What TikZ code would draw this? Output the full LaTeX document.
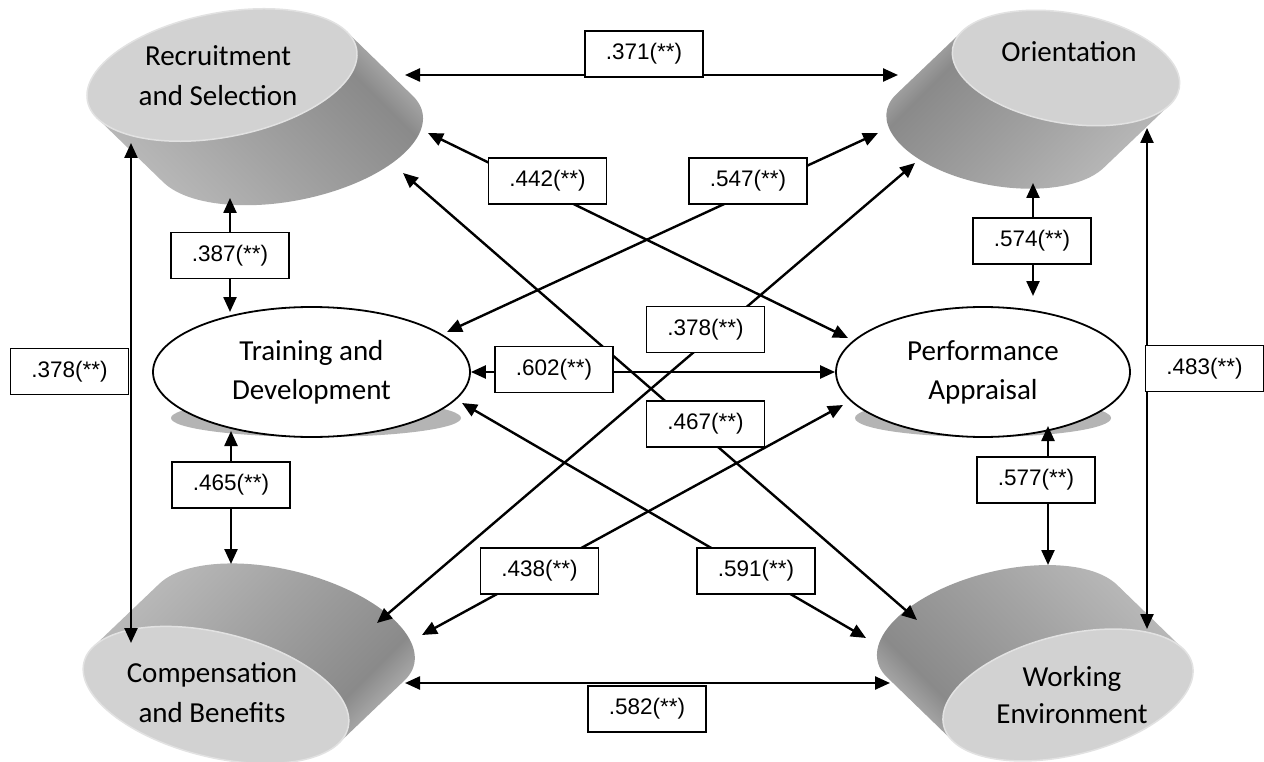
\documentclass[tikz,border=0pt]{standalone}
\usepackage{fontspec}
\setmainfont{Carlito}
\newfontfamily\labfont{Liberation Sans}
\usetikzlibrary{arrows.meta,shapes.geometric}
\definecolor{facecol}{HTML}{D2D2D2}
\definecolor{rimcol}{HTML}{E2E2E2}
\definecolor{shadowcol}{HTML}{B4B4B4}
\definecolor{cA}{HTML}{BDBDBD}
\definecolor{cB}{HTML}{A3A3A3}
\definecolor{cC}{HTML}{8A8A8A}
\definecolor{cD}{HTML}{BDBDBD}
\pgfdeclarehorizontalshading{cylshade}{100bp}{color(0bp)=(cA); color(25bp)=(cA); color(45bp)=(cB); color(66bp)=(cC); color(75bp)=(cD); color(100bp)=(cD)}
\newcommand\mycyl[8]{%
\begin{scope}[shift={(#1,#2)},rotate=#3]
\pgfmathsetmacro\myud{cos(#3)*(#6)-sin(#3)*(#7)}
\pgfmathsetmacro\myvd{sin(#3)*(#6)+cos(#3)*(#7)}
\pgfmathsetmacro\mynu{-(\myud)}
\pgfmathsetmacro\mynv{-(\myvd)}
\pgfmathsetmacro\myt{atan2(-(#5)*(\myud),(#4)*(\myvd))}
\pgfmathsetmacro\mytb{\myt+180}
\pgfmathsetmacro\mytc{\myt+360}
\path[shading=cylshade,shading angle=#8] ({(#4)*cos(\myt)},{(#5)*sin(\myt)}) -- ++(\myud,\myvd) arc[start angle=\myt,end angle=\mytb,x radius=#4,y radius=#5] -- ++(\mynu,\mynv) arc[start angle=\mytb,end angle=\mytc,x radius=#4,y radius=#5] -- cycle;
\path[fill=facecol,draw=rimcol,line width=1.5pt] (0,0) ellipse[x radius=#4,y radius=#5];
\end{scope}}
\begin{document}
\begin{tikzpicture}[x=1pt,y=-1pt,
  conn/.style={line width=2.4pt,{Triangle[length=15pt,width=13pt]}-{Triangle[length=15pt,width=13pt]}},
  lab/.style={draw,line width=1.6pt,fill=white,minimum width=118pt,minimum height=46pt,inner sep=0pt,font=\labfont\fontsize{22.5}{26}\selectfont},
  oval/.style={ellipse,draw,line width=1.8pt,fill=white,inner sep=0pt,align=center,font=\fontsize{29}{39}\selectfont},
  cyltext/.style={align=center,inner sep=0pt,font=\fontsize{29}{40}\selectfont}]
\useasboundingbox (0,0) rectangle (1264,762);
\fill[white] (0,0) rectangle (1264,762);
% cylinders
\mycyl{222}{75}{11}{137}{62}{66}{64}{45}
\mycyl{1066}{68}{-10}{115}{55}{-66}{63}{135}
\mycyl{216}{695}{-14}{136}{62}{66}{-63}{-45}
\mycyl{1068}{695}{14}{128}{60}{-66}{-64}{-135}
\node[cyltext] (rs) at (218,76) {Recruitment\\and Selection};
\node[cyltext] (or) at (1069,52) {Orientation};
\node[cyltext] (cb) at (212,693) {Compensation\\and Benefits};
\node[cyltext,font=\fontsize{29}{37}\selectfont] (we) at (1072,695) {Working\\Environment};
% shadows and ellipses
\fill[shadowcol] (316,418) ellipse[x radius=145,y radius=19];
\fill[shadowcol] (983,418) ellipse[x radius=128,y radius=19];
\node[oval,minimum width=317pt,minimum height=130pt] (td) at (311.5,372) {Training and\\Development};
\node[oval,minimum width=294pt,minimum height=130pt] (pa) at (983,372) {Performance\\Appraisal};
% connector ends
\coordinate (rsE) at (405,75);   \coordinate (orW) at (898,75);
\coordinate (rsA) at (428,133);  \coordinate (paA) at (848,338);
\coordinate (orA) at (878,133);  \coordinate (tdA) at (447,332);
\coordinate (orB) at (915,163);  \coordinate (cbA) at (377,623);
\coordinate (rsB) at (403,173);  \coordinate (weA) at (917,620);
\coordinate (paB) at (843,405);  \coordinate (cbB) at (422,635);
\coordinate (tdB) at (462,403);  \coordinate (weB) at (866,638);
\coordinate (rsC) at (131,143);  \coordinate (cbC) at (131,643);
\coordinate (orC) at (1147,128); \coordinate (weC) at (1147,629);
\coordinate (rsD) at (230,198);  \coordinate (tdC) at (230,312);
\coordinate (tdD) at (231,431);  \coordinate (cbD) at (231,564);
\coordinate (orD) at (1033,183); \coordinate (paC) at (1033,296);
\coordinate (paD) at (1048,426); \coordinate (weD) at (1048,565);
\coordinate (cbE) at (405,683);  \coordinate (weE) at (890,683);
% connectors
\draw[conn] (rsE) -- (orW);
\draw[conn] (rsA) -- (paA);
\draw[conn] (orA) -- (tdA);
\draw[conn] (orB) -- (cbA);
\draw[conn] (rsB) -- (weA);
\draw[conn] (td.east) -- (pa.west);
\draw[conn] (paB) -- (cbB);
\draw[conn] (tdB) -- (weB);
\draw[conn] (rsC) -- (cbC);
\draw[conn] (orC) -- (weC);
\draw[conn] (rsD) -- (tdC);
\draw[conn] (tdD) -- (cbD);
\draw[conn] (orD) -- (paC);
\draw[conn] (paD) -- (weD);
\draw[conn] (cbE) -- (weE);
% labels
\node[lab] (l371) at (644,54) {.371(**)};
\node[lab] (l442) at (547.5,181) {.442(**)};
\node[lab] (l547) at (748,181) {.547(**)};
\node[lab] (l378m) at (705.5,329.5) {.378(**)};
\node[lab] (l602) at (554,369.5) {.602(**)};
\node[lab] (l467) at (705.5,424) {.467(**)};
\node[lab] (l438) at (539.5,571) {.438(**)};
\node[lab] (l591) at (756,571) {.591(**)};
\node[lab] (l378l) at (69.5,371.5) {.378(**)};
\node[lab] (l483) at (1204.5,368.5) {.483(**)};
\node[lab] (l387) at (230,255.5) {.387(**)};
\node[lab] (l465) at (231,485) {.465(**)};
\node[lab] (l574) at (1032,241) {.574(**)};
\node[lab] (l577) at (1036,480) {.577(**)};
\node[lab] (l582) at (647,709) {.582(**)};
\end{tikzpicture}
\end{document}
